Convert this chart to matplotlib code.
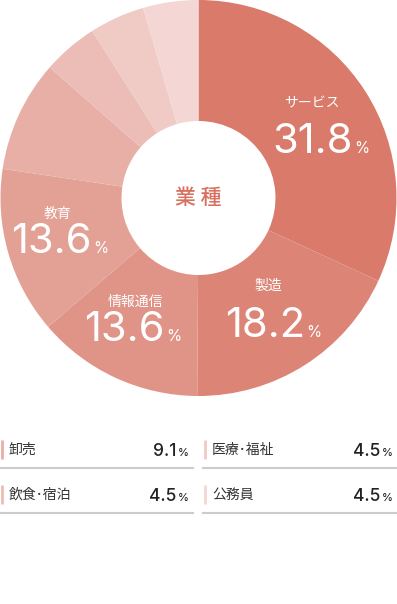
import matplotlib
matplotlib.use("Agg")
import matplotlib.pyplot as plt

plt.rcParams['font.family'] = ['Noto Sans CJK JP', 'DejaVu Sans']

# data
labels = ['サービス', '製造', '情報通信', '教育', '卸売', '飲食･宿泊', '医療･福祉', '公務員']
values = [31.8, 18.2, 13.6, 13.6, 9.1, 4.5, 4.5, 4.5]
colors = ['#d97a6a', '#dc8577', '#e09387', '#e3a196', '#e8afa6', '#ecbdb6', '#f0cac5', '#f4d7d4']
legend_rows = [('卸売', 9.1, '医療･福祉', 4.5), ('飲食･宿泊', 4.5, '公務員', 4.5)]

W, H = 397, 604
fig = plt.figure(figsize=(W / 100, H / 100), dpi=100)

# donut
R = 198.0
ax = fig.add_axes([0, 1 - 396 / H, 1, 396 / H])
ax.pie(values, colors=colors, startangle=90, counterclock=False, radius=1,
       wedgeprops=dict(width=1 - 77 / R, linewidth=0))
ax.set_xlim(-1.0025, 1.0025)
ax.set_ylim(-1, 1)
ax.set_aspect('equal')
ax.axis('off')

# pixel -> axes units
def px(x, y):
    return ((x - 198.5) / R, (198 - y) / R)

num_font = dict(family=['Inter', 'DejaVu Sans'], color='white')
# name, label centre, number right edge / baseline
inside = [
    (0, 312, 103, 353, 153),
    (1, 268, 286, 305, 337),
    (2, 135, 302, 165, 341),
    (3, 58, 214, 92, 253),
]
for k, lx, ly, nx, ny in inside:
    ax.text(*px(lx, ly), labels[k], ha='center', va='center', color='white', fontsize=10)
    ax.text(*px(nx, ny), f'{values[k]}', ha='right', va='baseline', fontsize=30, **num_font)
    ax.text(*px(nx + 1, ny), '%', ha='left', va='baseline', fontsize=11, **num_font)

ax.text(0, 0, '業 種', ha='center', va='center', color='#d8705f', fontsize=15, fontweight='medium')

# legend table
lg = fig.add_axes([0, 0, 1, 1])
lg.set_xlim(0, W)
lg.set_ylim(H, 0)
lg.axis('off')

leg_colors = [(colors[4], colors[6]), (colors[5], colors[7])]
for i, (l1, v1, l2, v2) in enumerate(legend_rows):
    y = 450 + i * 45
    for j, (lab, val) in enumerate([(l1, v1), (l2, v2)]):
        x0 = 0 if j == 0 else 203
        x1 = 193 if j == 0 else 397
        lg.plot([x0 + 2, x0 + 2], [y - 10, y + 9], color=leg_colors[i][j], lw=2, solid_capstyle='butt')
        lg.text(x0 + 9, y, lab, ha='left', va='center', fontsize=10, color='#333333')
        lg.text(x1 - 17, y + 6, f'{val}', ha='right', va='baseline', fontsize=12.5,
                family=['Inter', 'DejaVu Sans'], fontweight='medium', color='#222222')
        lg.text(x1 - 15, y + 6, '%', ha='left', va='baseline', fontsize=8,
                family=['Inter', 'DejaVu Sans'], fontweight='medium', color='#222222')
        lg.plot([x0, x1], [y + 18, y + 18], color='#cccccc', lw=1.5)

fig.savefig('out.png', dpi=100, facecolor='white')
